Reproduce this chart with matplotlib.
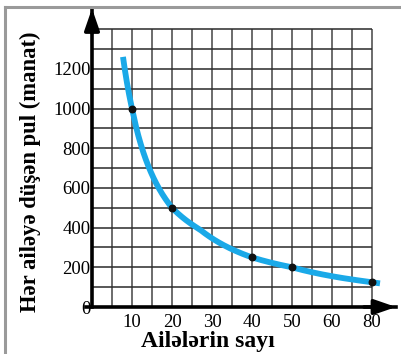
import matplotlib
matplotlib.use("Agg")
import matplotlib.pyplot as plt
import numpy as np

# ---- data ----
families = [10, 20, 40, 50, 80]
amount = [1000, 500, 250, 200, 125]
x_tick_values = [10, 20, 30, 40, 50, 60, 80]
x_tick_labels = ["10", "20", "30", "40", "50", "60", "80"]
y_ticks = [0, 200, 400, 600, 800, 1000, 1200]
# curve key points (family counts, money)
curve_x = [7.75, 10, 20, 27, 40, 50, 80, 84]
curve_y = [1260, 1000, 500, 390, 250, 200, 125, 119]

# tick positions on the drawn axis (axis labels are evenly spaced)
tick_pos = [10, 20, 30, 40, 50, 60, 70]

def to_pos(v):
    v = np.asarray(v, dtype=float)
    p = np.interp(v, x_tick_values, tick_pos)
    slope = (tick_pos[-1] - tick_pos[-2]) / (x_tick_values[-1] - x_tick_values[-2])
    p = np.where(v > x_tick_values[-1], tick_pos[-1] + (v - x_tick_values[-1]) * slope, p)
    p = np.where(v < x_tick_values[0], tick_pos[0] + (v - x_tick_values[0]), p)
    return p

W, H = 401, 354
fig = plt.figure(figsize=(W / 100, H / 100), dpi=100)
plt.rcParams['font.family'] = ['Liberation Serif', 'DejaVu Serif']

# frame border
fig.add_artist(plt.Line2D([5 / W, 5 / W], [0, 1 - 7 / H], color='#9a9a9a', lw=2.2, transform=fig.transFigure))
fig.add_artist(plt.Line2D([5 / W, 1], [1 - 7 / H, 1 - 7 / H], color='#9a9a9a', lw=2.2, transform=fig.transFigure))

px_x = 4.0          # px per unit x
px_y = 19.85 / 100  # px per unit y
x0, y0 = 92, 307
left_px, right_px = 86, 396
top_px = 9
xmin = -(x0 - left_px) / px_x
xmax = (right_px - x0) / px_x
ymax = (y0 - top_px) / px_y

ax = fig.add_axes([left_px / W, 1 - y0 / H, (right_px - left_px) / W, (y0 - top_px) / H])
ax.set_xlim(xmin, xmax)
ax.set_ylim(0, ymax)
ax.patch.set_alpha(0)

# grid
grid_x = np.arange(5, 75, 5)
grid_y = np.arange(100, 1500, 100)
ax.vlines(grid_x, 0, 1400, color='#444444', lw=1.1, zorder=1)
ax.hlines(grid_y, 0, 70, color='#2a2a2a', lw=1.1, zorder=1)

for s in ['top', 'right']:
    ax.spines[s].set_visible(False)
ax.spines['left'].set_position(('data', 0))
ax.spines['left'].set_linewidth(2.6)
ax.spines['bottom'].set_linewidth(2.6)
ax.spines['left'].set_zorder(3)
ax.spines['bottom'].set_zorder(3)

# arrows
ax.annotate('', xy=(0, ymax + 0.5 / px_y), xytext=(0, 1380),
            arrowprops=dict(arrowstyle='-|>,head_length=1.3,head_width=0.45', color='black', lw=2.6, shrinkA=0, shrinkB=0),
            annotation_clip=False, zorder=4)
ax.annotate('', xy=(xmax, 0), xytext=(68, 0),
            arrowprops=dict(arrowstyle='-|>,head_length=1.3,head_width=0.45', color='black', lw=2.6, shrinkA=0, shrinkB=0),
            annotation_clip=False, zorder=4)

ax.set_xticks(tick_pos, x_tick_labels)
ax.set_yticks(y_ticks, [str(v) for v in y_ticks])
ax.tick_params(axis='both', length=0, labelsize=13.5)
ax.tick_params(axis='x', pad=5)
ax.tick_params(axis='y', pad=1)

# smooth curve: log-log interpolation between the key points on the drawn axis
cp = to_pos(curve_x)
dense_p = np.exp(np.linspace(np.log(cp[0]), np.log(cp[-1]), 300))
dense_y = np.exp(np.interp(np.log(dense_p), np.log(cp), np.log(curve_y)))
ax.plot(dense_p, dense_y, color='#1aa9e8', lw=4.2, solid_capstyle='butt', zorder=5)
ax.scatter(to_pos(families), amount, s=22, color='#111111', zorder=6)

fig.text(208 / W, 1 - 342 / H, 'Ailələrin sayı', ha='center', va='center', fontsize=17, fontweight='bold')
fig.text(30 / W, 1 - 172 / H, 'Hər ailəyə düşən pul (manat)', ha='center', va='center', rotation=90,
         fontsize=16.3, fontweight='bold')

fig.savefig('out.png', dpi=100)
